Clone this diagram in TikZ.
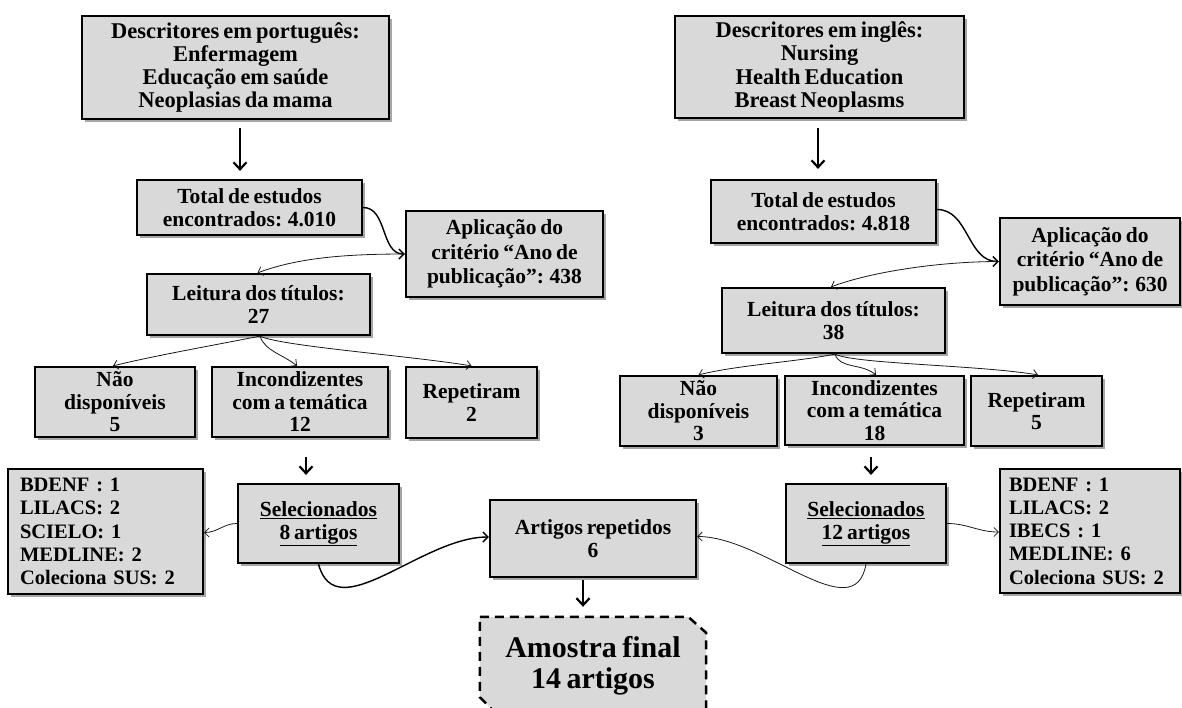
\documentclass[tikz,border=0pt]{standalone}
\usepackage{fontspec}
\setmainfont{Liberation Serif}
\usetikzlibrary{arrows.meta,shadows,calc}
\newcommand{\tightsp}{\spaceskip=0.18em plus 0.05em minus 0.03em\relax}
\begin{document}
\begin{tikzpicture}[x=1pt,y=1pt,
  box/.style={draw=black, line width=2.2pt, fill=gray!30, align=center,
    font=\bfseries\fontsize{21.5}{23}\selectfont\tightsp, inner sep=2pt,
    drop shadow={shadow xshift=2.5pt, shadow yshift=-2.5pt, fill=black, opacity=0.35}},
  topbox/.style={box, font=\bfseries\fontsize{22.5}{23.3}\selectfont\tightsp},
  rowbox/.style={box, font=\bfseries\fontsize{21.5}{22.5}\selectfont\tightsp},
  listbox/.style={box, align=left, text width=171pt, inner xsep=12pt,
    font=\bfseries\fontsize{20.5}{23.3}\selectfont\tightsp},
  bigarrow/.style={line width=2.2pt, -{Straight Barb[length=7pt,width=13pt]}},
  medarrow/.style={line width=1.4pt, -{Straight Barb[length=5pt,width=10pt]}},
  thinarrow/.style={line width=0.8pt, gray!20!black, -{Straight Barb[length=4.5pt,width=9pt]}},
]
\useasboundingbox (0,0) rectangle (1182,-707);

% top boxes
\node[topbox, minimum width=307pt, minimum height=103pt] (dpt) at (235.5,-67.5)
  {Descritores em português:\\Enfermagem\\Educação em saúde\\Neoplasias da mama};
\node[topbox, minimum width=289pt, minimum height=102pt] (den) at (819.5,-67)
  {Descritores em inglês:\\Nursing\\Health Education\\Breast Neoplasms};

\node[box, minimum width=225pt, minimum height=55pt] (tpt) at (249.5,-207.5)
  {Total de estudos\\encontrados: 4.010};
\node[box, minimum width=225pt, minimum height=63pt] (ten) at (823.5,-211.5)
  {Total de estudos\\encontrados: 4.818};

\node[box, font=\bfseries\fontsize{21.5}{24.5}\selectfont\tightsp, minimum width=197pt, minimum height=86pt] (apt) at (504.5,-254)
  {Aplicação do\\critério “Ano de\\publicação”: 438};
\node[box, font=\bfseries\fontsize{21.5}{24.5}\selectfont\tightsp, minimum width=180pt, minimum height=87pt] (aen) at (1090,-261.5)
  {Aplicação do\\critério “Ano de\\publicação”: 630};

\node[box, minimum width=223pt, minimum height=61pt] (lpt) at (258.5,-304.5)
  {Leitura dos títulos:\\27};
\node[box, minimum width=223pt, minimum height=65pt] (len) at (833.5,-320.5)
  {Leitura dos títulos:\\38};

% third row
\node[rowbox, minimum width=160pt, minimum height=70pt] (npt) at (115,-402) {Não\\disponíveis\\5};
\node[rowbox, minimum width=176pt, minimum height=70pt] (ipt) at (300,-402) {Incondizentes\\com a temática\\12};
\node[rowbox, minimum width=131pt, minimum height=71pt] (rpt) at (471.5,-402.5) {Repetiram\\2};
\node[rowbox, minimum width=157pt, minimum height=70pt] (nen) at (698.5,-411) {Não\\disponíveis\\3};
\node[rowbox, minimum width=179pt, minimum height=69pt] (ien) at (874.5,-410.5) {Incondizentes\\com a temática\\18};
\node[rowbox, minimum width=131pt, minimum height=70pt] (ren) at (1036.5,-411) {Repetiram\\5};

% selected
\node[box, minimum width=161pt, minimum height=79pt] (spt) at (318.5,-523.5)
  {\underline{Selecionados}\\\underline{8 artigos}};
\node[box, minimum width=160pt, minimum height=79pt] (sen) at (866,-523.5)
  {\underline{Selecionados}\\\underline{12 artigos}};

\node[listbox, minimum height=125pt] (dbpt) at (105.5,-531.5)
  {BDENF : 1\\LILACS: 2\\SCIELO: 1\\MEDLINE: 2\\Coleciona SUS: 2};
\node[listbox, text width=162pt, inner xsep=9pt, minimum height=124pt] (dben) at (1090,-531)
  {BDENF : 1\\LILACS: 2\\IBECS : 1\\MEDLINE: 6\\Coleciona SUS: 2};

\node[box, minimum width=206pt, minimum height=77pt] (art) at (593,-538.5)
  {Artigos repetidos\\6};

% final sample (chamfered, dashed)
\node[minimum width=226pt, minimum height=98pt] (fin) at (593,-666) {};
\fill[gray!30] (fin.north west) -- ($(fin.north east)+(-18,0)$) -- ($(fin.north east)+(0,-16)$)
  -- (fin.south east) -- ($(fin.south west)+(18,0)$) -- ($(fin.south west)+(0,18)$) -- cycle;
\draw[line width=2.5pt, dash pattern=on 9pt off 6pt]
  (fin.north west) -- ($(fin.north east)+(-18,0)$) -- ($(fin.north east)+(0,-16)$)
  -- (fin.south east) -- ($(fin.south west)+(18,0)$) -- ($(fin.south west)+(0,18)$) -- cycle;
\node[font=\bfseries\fontsize{30}{31}\selectfont\tightsp, align=center] (fintext) at (fin.center) {Amostra final\\14 artigos};

% straight arrows
\draw[bigarrow] ($(dpt.south)+(4.5,-8)$) -- ($(tpt.north)+(-9.5,8)$);
\draw[bigarrow] ($(den.south)+(-1.5,-9)$) -- ($(ten.north)+(-5.5,10)$);
\draw[bigarrow] ($(ipt.south)+(6,-19)$) -- ($(spt.north)+(-12.5,8)$);
\draw[bigarrow] ($(ien.south)+(-3.5,-11)$) -- ($(sen.north)+(5,8)$);
\draw[bigarrow] ($(art.south)+(-10,-2)$) -- ($(fin.north)+(-10,10)$);

% curved connectors
\draw[medarrow] (tpt.east) to[out=0,in=180] (apt.west);
\draw[thinarrow] (apt.west) .. controls +(-60,0) and +(40,15) .. ($(lpt.north)+(-1,0)$);
\draw[medarrow] ($(ten.east)+(0,2)$) to[out=0,in=180] (aen.west);
\draw[thinarrow] (aen.west) .. controls +(-60,0) and +(40,15) .. ($(len.north)+(-2.5,0)$);

\draw[thinarrow] ($(lpt.south)+(1.5,0)$) .. controls +(-40,-8) and +(40,10) .. ($(npt.north)+(-2,0)$);
\draw[thinarrow] ($(lpt.south)+(1.5,0)$) .. controls +(5,-15) and +(-15,12) .. ($(ipt.north)+(-3,0)$);
\draw[thinarrow] ($(lpt.south)+(1.5,0)$) .. controls +(20,-10) and +(-60,10) .. (rpt.north);
\draw[thinarrow] ($(len.south)+(1.5,0)$) .. controls +(-40,-8) and +(40,10) .. (nen.north);
\draw[thinarrow] ($(len.south)+(1.5,0)$) .. controls +(5,-15) and +(-15,12) .. ($(ien.north)+(1.5,0)$);
\draw[thinarrow] ($(len.south)+(1.5,0)$) .. controls +(20,-10) and +(-60,10) .. ($(ren.north)+(1.5,0)$);

\draw[thinarrow] (spt.west) to[out=180,in=0] ($(dbpt.east)+(0,-1)$);
\draw[thinarrow] (sen.east) to[out=0,in=180] ($(dben.west)+(0,-1)$);

\draw[medarrow] (spt.south) to[out=-75,in=180] ($(art.west)+(0,1.5)$);
\draw[thinarrow] (sen.south) to[out=-100,in=0] ($(art.east)+(0,2)$);
\end{tikzpicture}
\end{document}
